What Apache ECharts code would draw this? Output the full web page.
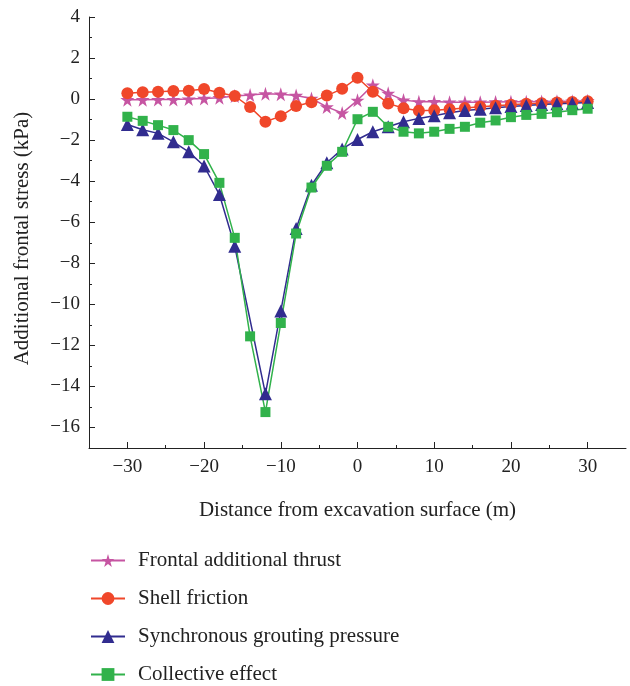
<!DOCTYPE html>
<html>
<head>
<meta charset="utf-8">
<script src="https://cdn.jsdelivr.net/npm/echarts@6/dist/echarts.min.js"></script>
<style>
  html, body { margin: 0; padding: 0; background: #fff; }
  #chart { width: 630px; height: 686px; }
</style>
</head>
<body>
<div id="chart"></div>
<script>
// distance from excavation surface (m)
const distance = [-30, -28, -26, -24, -22, -20, -18, -16, -14, -12, -10, -8, -6, -4, -2, 0,
  2, 4, 6, 8, 10, 12, 14, 16, 18, 20, 22, 24, 26, 28, 30]

const frontalThrust = [-0.03, -0.03, -0.02, -0.02, 0.0, 0.03, 0.07, 0.15, 0.2, 0.26, 0.24, 0.18, 0.03, -0.38, -0.68, -0.06,
  0.68, 0.28, -0.05, -0.13, -0.12, -0.15, -0.15, -0.15, -0.14, -0.13, -0.13, -0.12, -0.11, -0.1, -0.08]
const shellFriction = [0.28, 0.33, 0.36, 0.39, 0.41, 0.49, 0.31, 0.15, -0.39, -1.1, -0.83, -0.34, -0.15, 0.17, 0.5, 1.04,
  0.36, -0.21, -0.45, -0.57, -0.54, -0.49, -0.43, -0.37, -0.32, -0.27, -0.23, -0.2, -0.17, -0.14, -0.1]
// no marker is visible at -14 for this curve
const groutingPressure = [-1.24, -1.49, -1.67, -2.08, -2.57, -3.26, -4.65, -7.17, null, -14.36, -10.33, -6.31, -4.2, -3.1, -2.43, -1.97,
  -1.59, -1.35, -1.1, -0.94, -0.81, -0.67, -0.56, -0.49, -0.42, -0.36, -0.31, -0.26, -0.23, -0.2, -0.17]
const collective = [-0.86, -1.06, -1.27, -1.51, -2.0, -2.68, -4.08, -6.76, -11.56, -15.25, -10.91, -6.55, -4.31, -3.25, -2.57, -0.98,
  -0.62, -1.35, -1.59, -1.67, -1.59, -1.45, -1.35, -1.15, -1.04, -0.88, -0.77, -0.72, -0.64, -0.54, -0.47]

// ticks
const xMajor = [-30, -20, -10, 0, 10, 20, 30]
const xMinor = [-25, -15, -5, 5, 15, 25]
const yMajor = [-16, -14, -12, -10, -8, -6, -4, -2, 0, 2, 4]
const yMinor = [-17, -15, -13, -11, -9, -7, -5, -3, -1, 1, 3]

const FONT = 'Liberation Serif'
const STAR = 'path://M50,0 L61,35 L98,35 L68,57 L79,91 L50,70 L21,91 L32,57 L2,35 L39,35 Z'

const minus = v => String(v).replace('-', '\u2212')
const pairs = ys => distance.map((x, i) => [x, ys[i]])

function makeSeries (name, ys, color, symbol, size) {
  return {
    name: name,
    type: 'line',
    data: pairs(ys),
    connectNulls: true,
    symbol: symbol,
    symbolSize: size,
    lineStyle: { color: color, width: 1.5 },
    itemStyle: { color: color },
    emphasis: { disabled: true },
    animation: false
  }
}

const chart = echarts.init(document.getElementById('chart'))
chart.setOption({
  animation: false,
  grid: { left: 89, right: 4, top: 17, bottom: 238 },
  legend: {
    orient: 'vertical',
    left: 90,
    top: 550,
    height: 170,
    padding: 0,
    itemWidth: 34,
    itemHeight: 16,
    itemGap: 17,
    textStyle: { fontFamily: FONT, fontSize: 21, color: '#222', lineHeight: 20, padding: [0, 0, 0, 8] },
    data: ['Frontal additional thrust', 'Shell friction', 'Synchronous grouting pressure', 'Collective effect']
  },
  xAxis: [
    {
      type: 'value',
      min: -35,
      max: 35,
      name: 'Distance from excavation surface (m)',
      nameLocation: 'middle',
      nameGap: 52,
      nameTextStyle: { fontFamily: FONT, fontSize: 21, color: '#222' },
      axisLine: { onZero: false, lineStyle: { color: '#222', width: 1 } },
      axisTick: { inside: true, length: 6, customValues: xMajor, lineStyle: { color: '#222' } },
      axisLabel: { customValues: xMajor, fontFamily: FONT, fontSize: 19, color: '#222', margin: 10, formatter: minus },
      splitLine: { show: false }
    },
    {
      type: 'value',
      min: -35,
      max: 35,
      position: 'bottom',
      axisLine: { show: false, onZero: false },
      axisTick: { inside: true, length: 3, customValues: xMinor, lineStyle: { color: '#222' } },
      axisLabel: { show: false },
      splitLine: { show: false }
    }
  ],
  yAxis: [
    {
      type: 'value',
      min: -17,
      max: 4,
      name: 'Additional frontal stress (kPa)',
      nameLocation: 'middle',
      nameGap: 56,
      nameTextStyle: { fontFamily: FONT, fontSize: 21, color: '#222', padding: [0, 12, 0, 0] },
      axisLine: { show: true, onZero: false, lineStyle: { color: '#222', width: 1 } },
      axisTick: { show: true, inside: true, length: 6, customValues: yMajor, lineStyle: { color: '#222' } },
      axisLabel: { customValues: yMajor, fontFamily: FONT, fontSize: 19, color: '#222', margin: 9, formatter: minus },
      splitLine: { show: false }
    },
    {
      type: 'value',
      min: -17,
      max: 4,
      position: 'left',
      axisLine: { show: false, onZero: false },
      axisTick: { show: true, inside: true, length: 3, customValues: yMinor, lineStyle: { color: '#222' } },
      axisLabel: { show: false },
      splitLine: { show: false }
    }
  ],
  series: [
    makeSeries('Frontal additional thrust', frontalThrust, '#c655a2', STAR, 14),
    makeSeries('Shell friction', shellFriction, '#f0472a', 'circle', 12),
    makeSeries('Synchronous grouting pressure', groutingPressure, '#312c8f', 'triangle', 13),
    makeSeries('Collective effect', collective, '#31b24b', 'rect', 10)
  ]
})
</script>
</body>
</html>
